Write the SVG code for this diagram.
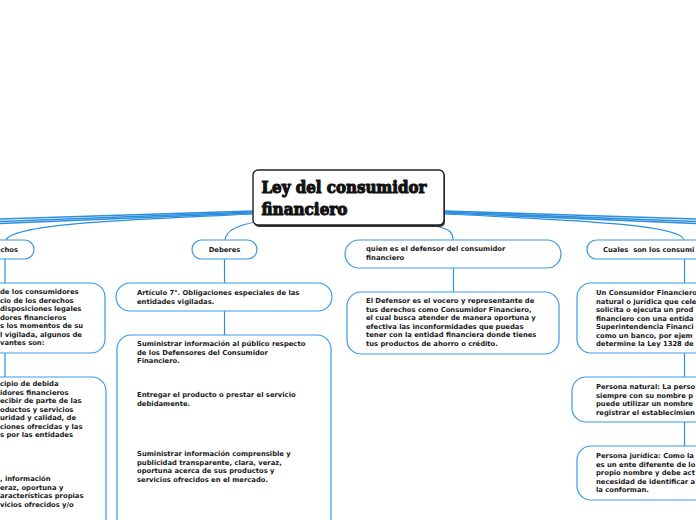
<svg xmlns="http://www.w3.org/2000/svg" width="696" height="520" viewBox="0 0 696 520">
<style>
.n{fill:#fff;stroke:#3b9be4;stroke-width:1.2}
.c{fill:none;stroke:#2b8fde;stroke-width:1.2}
.ct{fill:none;stroke:#2b8fde;stroke-width:1.6}
.t{font-family:"DejaVu Sans",Verdana,sans-serif;font-weight:bold;font-size:6.8px;fill:#1a1a1a}
.h{font-family:"DejaVu Serif","Liberation Serif",serif;font-weight:900;font-size:16px;fill:#111;stroke:#111;stroke-width:1.1;stroke-linejoin:round}
</style>
<rect width="696" height="520" fill="#fff"/>
<g id="connectors">
<path class="ct" d="M253,211 L0,219"/>
<path class="ct" d="M253,212 L0,221.5"/>
<path class="ct" d="M253,213 L0,223.5"/>
<path class="c" d="M253,214 C120,220 12,224 6,240"/>
<path class="c" d="M256,222 C238,225 226,230 225,240"/>
<path class="ct" d="M444,211 L696,219"/>
<path class="ct" d="M444,212 L696,221.5"/>
<path class="ct" d="M444,213 L696,223.5"/>
<path class="c" d="M444,214 C600,221 682,226 684,240"/>
<path class="c" d="M436,226 C450,229 453,233 453,240"/>
<path class="c" d="M5,259 V283 M5,353 V377"/>
<path class="c" d="M224.5,259 V283 M224.5,311 V335"/>
<path class="c" d="M453.5,268 V292"/>
<path class="c" d="M684.5,259 V283 M684.5,353 V377 M684.5,422 V446"/>
</g>
<g id="title">
<rect x="254" y="172" width="191" height="55" rx="5" fill="#333"/>
<rect x="253" y="170" width="191" height="55" rx="5" fill="#fff" stroke="#222" stroke-width="1.4"/>
<text class="h" x="261.5" y="193" textLength="165" lengthAdjust="spacingAndGlyphs">Ley del consumidor</text>
<text class="h" x="261.5" y="215" textLength="86" lengthAdjust="spacingAndGlyphs">financiero</text>
</g>
<g id="derechos">
<rect class="n" x="-40" y="240" width="74" height="19" rx="9.5"/>
<text class="t" x="18" y="251.5" text-anchor="end">echos</text>
</g>
<g id="derechos-1">
<rect class="n" x="-120" y="283" width="225" height="70" rx="14"/>
<text class="t" x="0" y="294">de los consumidores</text>
<text class="t" x="0" y="302.5">cio de los derechos</text>
<text class="t" x="0" y="311">disposiciones legales</text>
<text class="t" x="0" y="319.5">dores financieros</text>
<text class="t" x="0" y="328">s los momentos de su</text>
<text class="t" x="0" y="336.5">l vigilada, algunos de</text>
<text class="t" x="0" y="345">vantes son:</text>
</g>
<g id="derechos-2">
<rect class="n" x="-120" y="377" width="226" height="180" rx="14"/>
<text class="t" x="0" y="386">cipio de debida</text>
<text class="t" x="0" y="394.5">idores financieros</text>
<text class="t" x="0" y="403">ecibir de parte de las</text>
<text class="t" x="0" y="411.5">oductos y servicios</text>
<text class="t" x="0" y="420">uridad y calidad, de</text>
<text class="t" x="0" y="428.5">ciones ofrecidas y las</text>
<text class="t" x="0" y="437">s por las entidades</text>
<text class="t" x="0" y="481">, información</text>
<text class="t" x="0" y="489.5">eraz, oportuna y</text>
<text class="t" x="0" y="498">aracterísticas propias</text>
<text class="t" x="0" y="506.5">vicios ofrecidos y/o</text>
</g>
<g id="deberes">
<rect class="n" x="192" y="240" width="65" height="19" rx="9.5"/>
<text class="t" x="224.5" y="251.5" text-anchor="middle">Deberes</text>
</g>
<g id="articulo">
<rect class="n" x="116" y="283" width="216" height="28" rx="14"/>
<text class="t" x="137" y="295">Artículo 7°. Obligaciones especiales de las</text>
<text class="t" x="137" y="303.5">entidades vigiladas.</text>
</g>
<g id="obligaciones">
<rect class="n" x="117" y="335" width="214" height="220" rx="14"/>
<text class="t" x="137" y="346">Suministrar información al público respecto</text>
<text class="t" x="137" y="354.5">de los Defensores del Consumidor</text>
<text class="t" x="137" y="363">Financiero.</text>
<text class="t" x="137" y="397">Entregar el producto o prestar el servicio</text>
<text class="t" x="137" y="405.5">debidamente.</text>
<text class="t" x="137" y="456">Suministrar información comprensible y</text>
<text class="t" x="137" y="464.5">publicidad transparente, clara, veraz,</text>
<text class="t" x="137" y="473">oportuna acerca de sus productos y</text>
<text class="t" x="137" y="481.5">servicios ofrecidos en el mercado.</text>
</g>
<g id="quien">
<rect class="n" x="345" y="240" width="216" height="28" rx="14"/>
<text class="t" x="366" y="251">quien es el defensor del consumidor</text>
<text class="t" x="366" y="260">financiero</text>
</g>
<g id="defensor">
<rect class="n" x="347" y="292" width="212" height="62" rx="14"/>
<text class="t" x="366" y="303">El Defensor es el vocero y representante de</text>
<text class="t" x="366" y="311.5">tus derechos como Consumidor Financiero,</text>
<text class="t" x="366" y="320">el cual busca atender de manera oportuna y</text>
<text class="t" x="366" y="328.5">efectiva las inconformidades que puedas</text>
<text class="t" x="366" y="337">tener con la entidad financiera donde tienes</text>
<text class="t" x="366" y="345.5">tus productos de ahorro o crédito.</text>
</g>
<g id="cuales">
<rect class="n" x="587" y="240" width="160" height="19" rx="9.5"/>
<text class="t" x="603" y="251.5" xml:space="preserve">Cuales  son los consumi</text>
</g>
<g id="consumidor">
<rect class="n" x="577" y="283" width="180" height="70" rx="14"/>
<text class="t" x="596" y="295">Un Consumidor Financiero</text>
<text class="t" x="596" y="303.5">natural o jurídica que cele</text>
<text class="t" x="596" y="312">solicita o ejecuta un prod</text>
<text class="t" x="596" y="320.5">financiero con una entida</text>
<text class="t" x="596" y="329">Superintendencia Financi</text>
<text class="t" x="596" y="337.5">como un banco, por ejem</text>
<text class="t" x="596" y="346">determine la Ley 1328 de</text>
</g>
<g id="natural">
<rect class="n" x="572" y="377" width="185" height="45" rx="14"/>
<text class="t" x="596" y="389">Persona natural: La perso</text>
<text class="t" x="596" y="397.5">siempre con su nombre p</text>
<text class="t" x="596" y="406">puede utilizar un nombre</text>
<text class="t" x="596" y="414.5">registrar el establecimien</text>
</g>
<g id="juridica">
<rect class="n" x="577" y="446" width="180" height="54" rx="14"/>
<text class="t" x="596" y="458">Persona jurídica: Como la</text>
<text class="t" x="596" y="466.5">es un ente diferente de lo</text>
<text class="t" x="596" y="475">propio nombre y debe act</text>
<text class="t" x="596" y="483.5">necesidad de identificar a</text>
<text class="t" x="596" y="492">la conforman.</text>
</g>
</svg>
